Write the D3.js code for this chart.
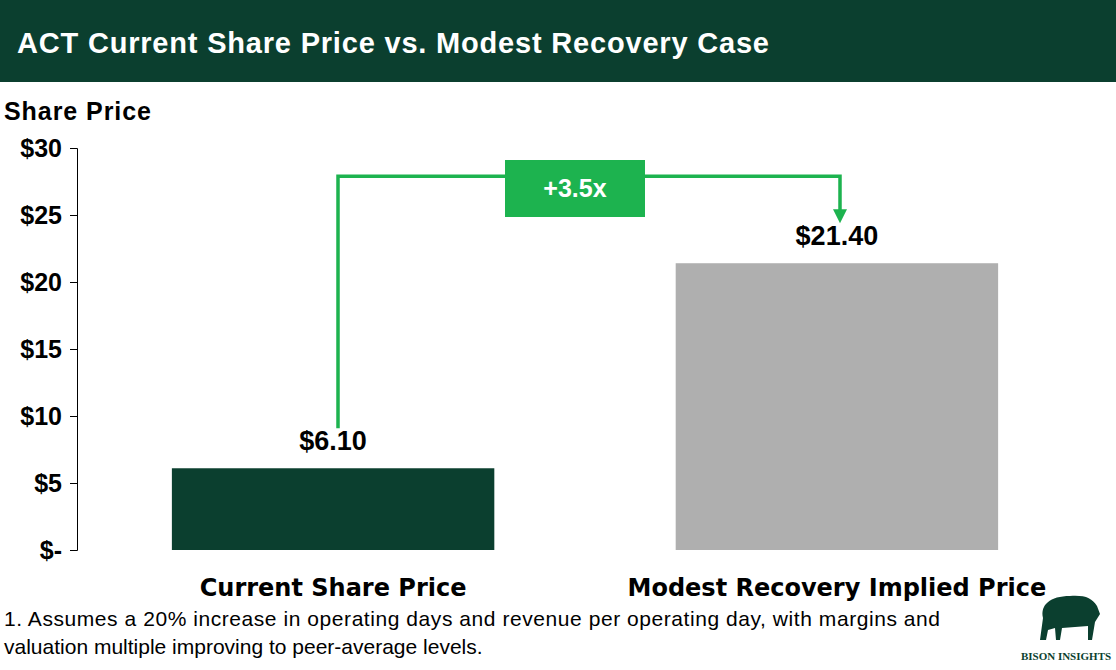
<!DOCTYPE html>
<html><head><meta charset="utf-8">
<script src="https://cdn.jsdelivr.net/npm/d3@7"></script>
<style>body{margin:0;background:#fff}svg{display:block;font-family:Arial,"Liberation Sans",sans-serif}</style>
</head><body><svg id="c" width="1116" height="670"></svg>
<script>
const categories=["Current Share Price","Modest Recovery Implied Price"];
const values=[6.1,21.4];
const labels=["$6.10","$21.40"];
const tickValues=[0,5,10,15,20,25,30];
const tickLabels=["$-","$5","$10","$15","$20","$25","$30"];
const colors=["#0b3f2f","#afafaf"];
const multiple="+3.5x";

const svg=d3.select("#c");
svg.append("rect").attr("x",0).attr("y",0).attr("width",1116).attr("height",82).attr("fill","#0b3f2f");
svg.append("text").attr("x",17).attr("y",53).attr("fill","#fff").attr("font-size",29).attr("font-weight","bold").attr("textLength",752).text("ACT Current Share Price vs. Modest Recovery Case");
svg.append("text").attr("x",4).attr("y",120).attr("font-size",25).attr("font-weight","bold").attr("textLength",147).text("Share Price");

const y=d3.scaleLinear().domain([0,30]).range([550,148]);
const x=d3.scaleBand().domain(categories).range([121.5,1048.5]).paddingInner(0.36).paddingOuter(0.1);

const ax=svg.append("g").attr("transform","translate(77,0)").call(d3.axisLeft(y).tickValues(tickValues).tickFormat((d,i)=>tickLabels[i]).tickSize(7).tickPadding(8));
ax.select(".domain").attr("stroke","#000");
ax.selectAll("line").attr("stroke","#000");
ax.selectAll("text").attr("font-size",25).attr("font-weight","bold").attr("fill","#000").attr("font-family","Arial,'Liberation Sans',sans-serif");

svg.selectAll(".bar").data(values).join("rect").attr("x",(d,i)=>x(categories[i])).attr("width",x.bandwidth())
 .attr("y",d=>y(d)).attr("height",d=>y(0)-y(d)).attr("fill",(d,i)=>colors[i]);
svg.selectAll(".vl").data(values).join("text").attr("x",(d,i)=>x(categories[i])+x.bandwidth()/2).attr("y",d=>y(d)-18)
 .attr("text-anchor","middle").attr("font-size",27).attr("font-weight","bold").text((d,i)=>labels[i]);
svg.selectAll(".cl").data(categories).join("text").attr("x",d=>x(d)+x.bandwidth()/2).attr("y",596)
 .attr("text-anchor","middle").attr("font-size",24).attr("font-weight","bold").attr("font-family","'DejaVu Sans',sans-serif").text(d=>d);

const g="#1db34f";
const x1=338, x2=840;
const yTop=y(27.9);
svg.append("path").attr("d",`M${x1},${y(values[0])-40}V${yTop}H${x2}V${y(values[1])-52}`).attr("fill","none").attr("stroke",g).attr("stroke-width",3.5);
svg.append("path").attr("d",`M${x2-7},${y(values[1])-54}L${x2+7},${y(values[1])-54}L${x2},${y(values[1])-40}Z`).attr("fill",g);
svg.append("rect").attr("x",505).attr("y",160).attr("width",140).attr("height",57).attr("fill",g);
svg.append("text").attr("x",575).attr("y",197).attr("text-anchor","middle").attr("fill","#fff").attr("font-size",25).attr("font-weight","bold").text(multiple);

const fn=svg.append("text").attr("font-size",21).attr("fill","#000");
fn.append("tspan").attr("x",4).attr("y",626).attr("textLength",936).text("1. Assumes a 20% increase in operating days and revenue per operating day, with margins and");
fn.append("tspan").attr("x",4).attr("y",654).text("valuation multiple improving to peer-average levels.");

svg.append("text").attr("x",1066).attr("y",660).attr("text-anchor","middle").attr("font-family","'Liberation Serif',serif").attr("font-weight","bold").attr("font-size",11).attr("fill","#0b3f2f").text("BISON INSIGHTS");
svg.append("path").attr("d","M1040,640 L1043,618 C1040,605 1050,596 1070,596 C1085,595 1092,598 1097,606 L1100,614 L1095,622 L1092,640 L1088,640 L1088,626 L1062,628 L1060,640 L1056,640 L1055,628 L1048,630 L1046,640 Z").attr("fill","#0b3f2f");
</script></body></html>
